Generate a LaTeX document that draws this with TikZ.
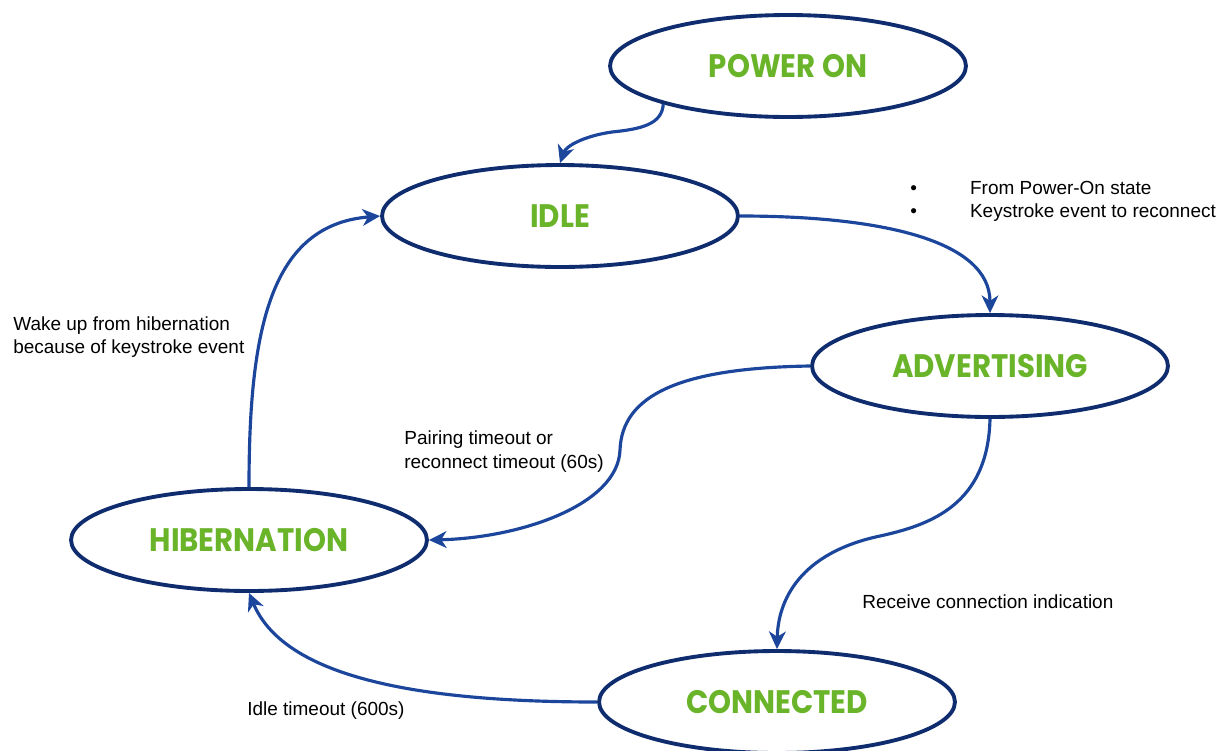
\documentclass[tikz,border=0pt]{standalone}
\usepackage{fontspec}
\setmainfont{Liberation Sans}
\newfontfamily\statefont[FakeStretch=0.9]{Poppins}
\usetikzlibrary{shapes.geometric,arrows.meta}

\definecolor{rim}{RGB}{14,44,110}
\definecolor{wire}{RGB}{28,70,156}
\definecolor{leaf}{RGB}{106,180,42}

\tikzset{
  state/.style={ellipse, draw=rim, line width=2.2pt, fill=white,
    minimum width=7.12cm, minimum height=2.04cm, inner sep=0pt,
    text=leaf, font=\statefont\bfseries\fontsize{18.5pt}{21pt}\selectfont},
  trans/.style={draw=wire, line width=1.8pt,
    -{Stealth[length=10pt,width=9.5pt,inset=3pt]}},
  note/.style={inner sep=0pt, anchor=west, align=left, text=black,
    font=\fontsize{10.8pt}{13.4pt}\selectfont}
}

\begin{document}
\begin{tikzpicture}[x=0.02cm, y=-0.02cm]
  \useasboundingbox (0,0) rectangle (1228,751);

  % states
  \node[state] (pw)   at (788,66)  {POWER ON};
  \node[state] (idle) at (560,216) {IDLE};
  \node[state] (adv)  at (990,366) {ADVERTISING};
  \node[state] (hib)  at (249,540) {HIBERNATION};
  \node[state] (con)  at (777,702) {CONNECTED};

  % transitions
  \draw[trans] (pw.197) .. controls (662,124) and (642,129) .. (612,132)
                        .. controls (584,136) and (566,146) .. (idle.north);
  \draw[trans] (idle.east) .. controls (880,216) and (990,240) .. (adv.north);
  \draw[trans] (adv.west) .. controls (680,368) and (622,395) .. (620,450)
                          .. controls (618,505) and (520,538) .. (hib.east);
  \draw[trans] (adv.south) .. controls (988,505) and (930,525) .. (880,536)
                           .. controls (800,553) and (778,600) .. (con.north);
  \draw[trans] (con.west) .. controls (400,702) and (282,672) .. (hib.south);
  \draw[trans] (hib.north) .. controls (249,330) and (270,225) .. (idle.west);

  % transition notes
  \node[note] (n1) at (910,201.5)
    {\makebox[34pt][l]{\textbullet}From Power-On state\\
     \makebox[34pt][l]{\textbullet}Keystroke event to reconnect};
  \node[note] (n2) at (13,337) {Wake up from hibernation\\because of keystroke event};
  \node[note] (n3) at (404,451.5) {Pairing timeout or\\reconnect timeout (60s)};
  \node[note] (n4) at (862,602) {Receive connection indication};
  \node[note] (n5) at (247,711) {Idle timeout (600s)};
\end{tikzpicture}
\end{document}
